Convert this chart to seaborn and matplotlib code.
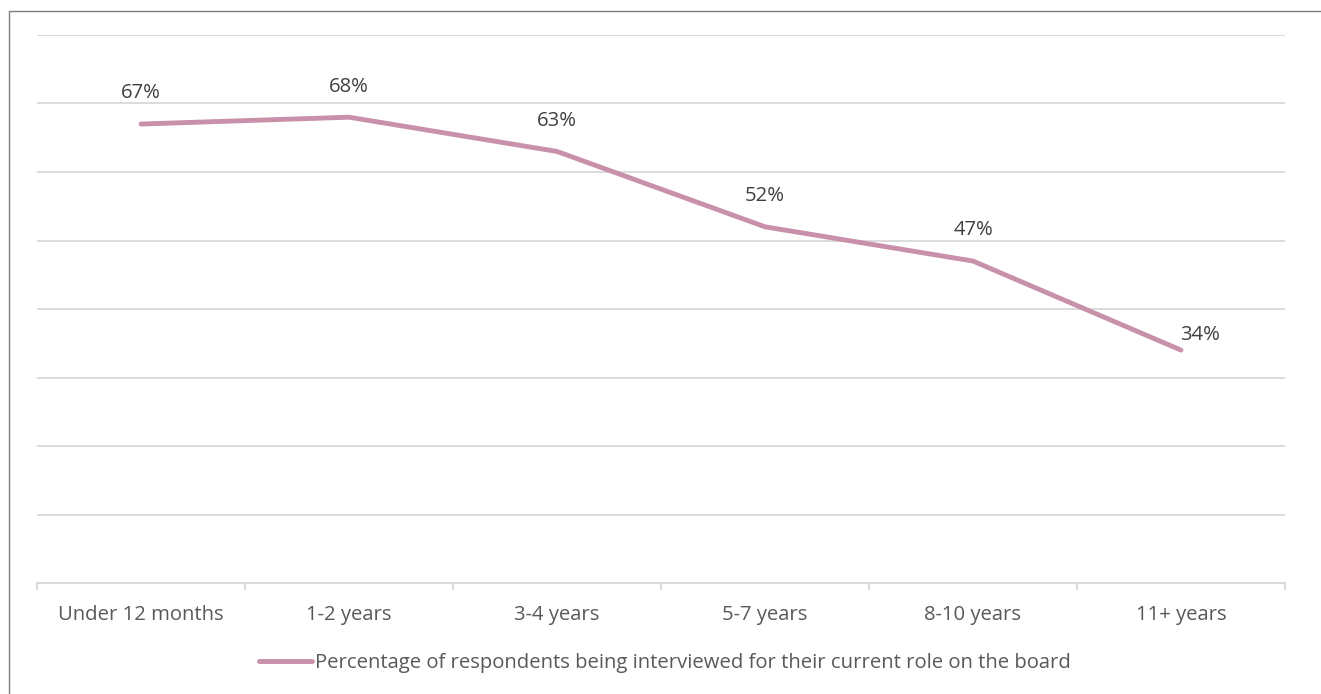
import matplotlib
matplotlib.use("Agg")
import matplotlib.pyplot as plt
import seaborn as sns
import pandas as pd
from matplotlib.patches import Rectangle

categories = ["Under 12 months", "1-2 years", "3-4 years", "5-7 years", "8-10 years", "11+ years"]
values = [67, 68, 63, 52, 47, 34]
series_name = "Percentage of respondents being interviewed for their current role on the board"

df = pd.DataFrame({"tenure": categories, "pct": values})
df["pos"] = range(len(categories))

sns.set_theme(style="white")
plt.rcParams["font.family"] = ["Open Sans", "DejaVu Sans"]

W, H = 1321, 694
FS = 14.6
fig = plt.figure(figsize=(W / 100, H / 100), dpi=100)
ax = fig.add_axes([37 / W, 1 - 583 / H, (1285 - 37) / W, (583 - 35) / H])

line_color = "#C990A9"
sns.lineplot(data=df, x="pos", y="pct", ax=ax, color=line_color, linewidth=3.5,
             solid_capstyle="round", label=series_name, legend=False)

ax.set_xlim(-0.5, len(categories) - 0.5)
ax.set_ylim(0, 80)
ax.set_yticks(range(0, 81, 10))
ax.yaxis.grid(True, color="#D9D9D9", linewidth=1.3)
ax.set_axisbelow(True)
ax.tick_params(axis="y", left=False, labelleft=False)
for s in ["left", "right", "top"]:
    ax.spines[s].set_visible(False)
ax.spines["bottom"].set_color("#D9D9D9")
ax.spines["bottom"].set_linewidth(1.3)

# category labels centered, tick marks on category boundaries
ax.set_xticks(range(len(categories)))
ax.set_xticklabels(categories, color="#595959", fontsize=FS)
ax.tick_params(axis="x", which="major", bottom=False, length=0, pad=16)
ax.set_xticks([i - 0.5 for i in range(len(categories) + 1)], minor=True)
ax.tick_params(axis="x", which="minor", bottom=True, length=5, width=1.3, color="#D9D9D9")
ax.set_xlabel("")
ax.set_ylabel("")

# value labels above each point; the last one sits to the right of its point
for i, v in enumerate(values):
    if i == len(values) - 1:
        off = (14, 11)
    else:
        off = (0, 22)
    ax.annotate(f"{v}%", (i, v), xytext=off, textcoords="offset points",
                ha="center", va="center", fontsize=FS, color="#404040")

handles, labels = ax.get_legend_handles_labels()
leg = fig.legend(handles, labels, loc="center", bbox_to_anchor=(665 / W, 1 - 663 / H),
                 frameon=False, fontsize=FS, handlelength=2.65, handletextpad=0.15,
                 labelcolor="#595959")

# chart frame
fig.patches.append(Rectangle((9 / W, -0.1), 1.2, 1 - 11 / H + 0.1, transform=fig.transFigure,
                             fill=False, edgecolor="#7F7F7F", linewidth=1.0))

fig.savefig("out.png", dpi=100)
